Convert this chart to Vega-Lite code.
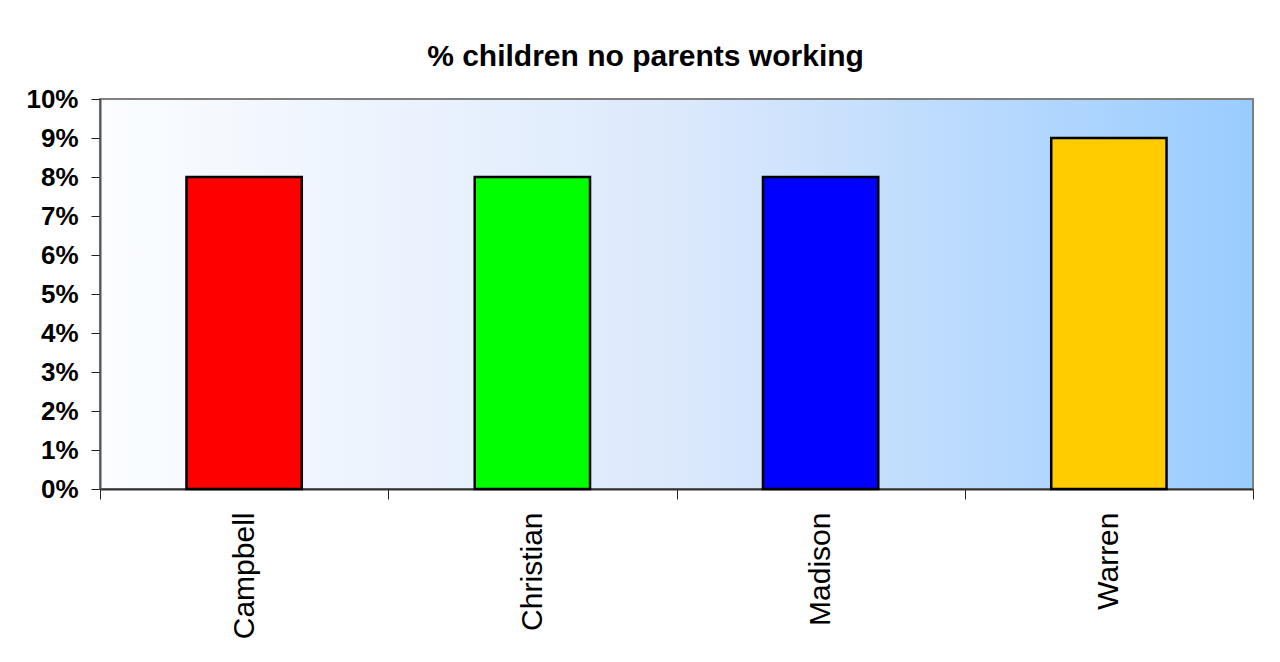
{
  "$schema": "https://vega.github.io/schema/vega-lite/v6.json",
  "width": 1153,
  "height": 390,
  "autosize": {"type": "none"},
  "padding": {"left": 100, "top": 99, "right": 27, "bottom": 173},
  "background": "white",
  "title": {
    "text": "% children no parents working",
    "font": "Liberation Sans",
    "fontSize": 30,
    "fontWeight": "bold",
    "color": "black",
    "anchor": "middle",
    "frame": "group",
    "dx": -31,
    "offset": 14
  },
  "data": {
    "values": [
      {"county": "Campbell", "pct": 0.08},
      {"county": "Christian", "pct": 0.08},
      {"county": "Madison", "pct": 0.08},
      {"county": "Warren", "pct": 0.09}
    ]
  },
  "mark": {"type": "bar", "stroke": "black", "strokeWidth": 2.5, "width": {"band": 0.4}},
  "encoding": {
    "x": {
      "field": "county",
      "type": "nominal",
      "sort": null,
      "scale": {"paddingInner": 0, "paddingOuter": 0},
      "axis": {
        "title": null,
        "labelAngle": -90,
        "labelFont": "Liberation Sans",
        "labelFontSize": 30,
        "labelColor": "black",
        "labelPadding": 13,
        "tickBand": "extent",
        "tickSize": 10,
        "tickColor": "#222",
        "domainColor": "#333",
        "domainWidth": 2,
        "grid": false
      }
    },
    "y": {
      "field": "pct",
      "type": "quantitative",
      "scale": {"domain": [0, 0.1]},
      "axis": {
        "title": null,
        "values": [0, 0.01, 0.02, 0.03, 0.04, 0.05, 0.06, 0.07, 0.08, 0.09, 0.1],
        "format": ".0%",
        "labelFont": "Liberation Sans",
        "labelFontSize": 26,
        "labelFontWeight": "bold",
        "labelColor": "black",
        "labelPadding": 13,
        "tickSize": 9,
        "tickColor": "#222",
        "domainColor": "#555",
        "domainWidth": 2,
        "grid": false
      }
    },
    "color": {
      "field": "county",
      "type": "nominal",
      "sort": null,
      "scale": {
        "domain": ["Campbell", "Christian", "Madison", "Warren"],
        "range": ["#ff0000", "#00ff00", "#0000ff", "#ffcc00"]
      },
      "legend": null
    }
  },
  "config": {
    "view": {
      "stroke": "#808080",
      "strokeWidth": 2,
      "fill": {
        "gradient": "linear",
        "x1": 0, "y1": 0, "x2": 1, "y2": 0,
        "stops": [
          {"offset": 0, "color": "#fbfdff"},
          {"offset": 0.5, "color": "#dce9fc"},
          {"offset": 1, "color": "#99ccff"}
        ]
      }
    }
  }
}
